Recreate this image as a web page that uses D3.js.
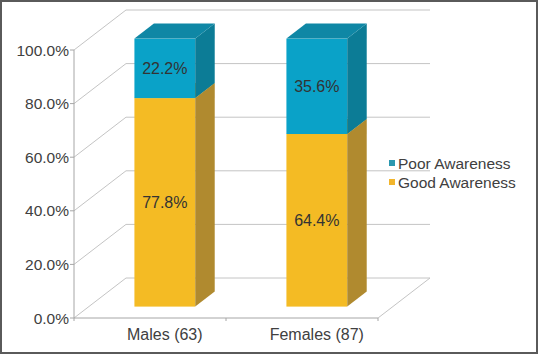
<!DOCTYPE html>
<html>
<head>
<meta charset="utf-8">
<script src="https://cdn.jsdelivr.net/npm/d3@7"></script>
<style>
  html, body { margin: 0; padding: 0; background: #fff; }
  svg { display: block; font-family: "Liberation Sans", Arial, sans-serif; }
</style>
</head>
<body>
<svg id="chart" width="538" height="354"></svg>
<script>
const categories = ["Males (63)", "Females (87)"];
const goodAwareness = [77.8, 64.4];
const poorAwareness = [22.2, 35.6];
const seriesNames = ["Good Awareness", "Poor Awareness"];
const yTicks = [0, 20, 40, 60, 80, 100];

const W = 538, H = 354;
const svg = d3.select("#chart");

// Front plane geometry
const x = d3.scaleBand().domain(categories).range([74, 378]).paddingInner(0).paddingOuter(0);
const y = d3.scaleLinear().domain([0, 100]).range([318, 50]);
const depth = { dx: 52, dy: -40 };
const barStart = 0.285, barEnd = 0.66; // fraction of depth
const barWidthFrac = 0.4;

const colors = {
  good: { front: "#f4bb24", side: "#b08a2f", top: "#d9a326" },
  poor: { front: "#0aa2c8", side: "#0c7c96", top: "#0f87a5" }
};
const legendColors = { good: "#f2b52c", poor: "#2b98b0" };

// Border
svg.append("rect").attr("x", 1).attr("y", 1).attr("width", W - 2).attr("height", H - 2)
  .attr("fill", "#fff").attr("stroke", "#5a5a5a").attr("stroke-width", 2);

const grid = svg.append("g");
// back wall grid lines
yTicks.forEach(t => {
  const yb = y(t) + depth.dy;
  grid.append("line")
    .attr("x1", x.range()[0] + depth.dx).attr("x2", x.range()[1] + depth.dx)
    .attr("y1", yb).attr("y2", yb)
    .attr("stroke", "#c4c4c4").attr("stroke-width", 1);
  // left wall diagonal
  grid.append("line")
    .attr("x1", x.range()[0]).attr("y1", y(t))
    .attr("x2", x.range()[0] + depth.dx).attr("y2", y(t) + depth.dy)
    .attr("stroke", "#c4c4c4").attr("stroke-width", 1);
});
// floor right diagonal
grid.append("line")
  .attr("x1", x.range()[1]).attr("y1", y(0))
  .attr("x2", x.range()[1] + depth.dx).attr("y2", y(0) + depth.dy)
  .attr("stroke", "#c4c4c4").attr("stroke-width", 1);

// Bars
const bw = x.bandwidth() * barWidthFrac;
const off = { dx: depth.dx * barStart, dy: depth.dy * barStart };
const bd = { dx: depth.dx * (barEnd - barStart), dy: depth.dy * (barEnd - barStart) };
const yb = v => y(v) + off.dy;

const stacks = categories.map((c, i) => [
  { key: "good", v0: 0, v1: goodAwareness[i], label: goodAwareness[i] },
  { key: "poor", v0: goodAwareness[i], v1: goodAwareness[i] + poorAwareness[i], label: poorAwareness[i] }
]);

const bars = svg.append("g");
categories.forEach((c, i) => {
  const x0 = x(c) + (x.bandwidth() - bw) / 2 + off.dx;
  const x1 = x0 + bw;
  stacks[i].forEach(s => {
    const yTop = yb(s.v1), yBot = yb(s.v0);
    const col = colors[s.key];
    bars.append("rect").attr("x", x0).attr("y", yTop).attr("width", bw).attr("height", yBot - yTop)
      .attr("fill", col.front);
    bars.append("path")
      .attr("d", `M${x1},${yTop}L${x1 + bd.dx},${yTop + bd.dy}L${x1 + bd.dx},${yBot + bd.dy}L${x1},${yBot}Z`)
      .attr("fill", col.side);
    bars.append("path")
      .attr("d", `M${x0},${yTop}L${x0 + bd.dx},${yTop + bd.dy}L${x1 + bd.dx},${yTop + bd.dy}L${x1},${yTop}Z`)
      .attr("fill", col.top);
    bars.append("text")
      .attr("x", x0 + bw / 2).attr("y", (yTop + yBot) / 2)
      .attr("dy", "0.36em")
      .attr("text-anchor", "middle")
      .attr("font-size", "16px").attr("fill", "#333")
      .text(d3.format(".1f")(s.label) + "%");
  });
});

// Axes (front)
const axes = svg.append("g");
axes.append("line").attr("x1", 74).attr("x2", 74).attr("y1", y(100)).attr("y2", y(0))
  .attr("stroke", "#a6a6a6").attr("stroke-width", 1);
axes.append("line").attr("x1", x.range()[0]).attr("x2", x.range()[1]).attr("y1", y(0)).attr("y2", y(0))
  .attr("stroke", "#a6a6a6").attr("stroke-width", 1);
yTicks.forEach(t => {
  axes.append("line").attr("x1", 70).attr("x2", 74).attr("y1", y(t)).attr("y2", y(t))
    .attr("stroke", "#a6a6a6");
  axes.append("text").attr("x", 69).attr("y", y(t)).attr("dy", "0.36em")
    .attr("text-anchor", "end").attr("font-size", "15.5px").attr("fill", "#404040")
    .text(d3.format(".1f")(t) + "%");
});
const xTickPos = [x.range()[0], ...categories.map(c => x(c) + x.bandwidth())];
xTickPos.forEach(p => {
  axes.append("line").attr("x1", p).attr("x2", p).attr("y1", y(0)).attr("y2", y(0) + 3)
    .attr("stroke", "#a6a6a6");
});
categories.forEach(c => {
  axes.append("text").attr("x", x(c) + x.bandwidth() / 2 + off.dx)
    .attr("y", 340).attr("text-anchor", "middle")
    .attr("font-size", "16px").attr("fill", "#404040").text(c);
});

// Legend (reverse order: Poor on top)
const legend = svg.append("g");
const legendItems = [
  { name: seriesNames[1], key: "poor" },
  { name: seriesNames[0], key: "good" }
];
legendItems.forEach((d, i) => {
  const ly = 163 + i * 19;
  legend.append("rect").attr("x", 389).attr("y", ly - 3).attr("width", 6).attr("height", 6)
    .attr("fill", legendColors[d.key]);
  legend.append("text").attr("x", 398).attr("y", ly).attr("dy", "0.36em")
    .attr("font-size", "15.5px").attr("fill", "#404040").text(d.name);
});
</script>
</body>
</html>
